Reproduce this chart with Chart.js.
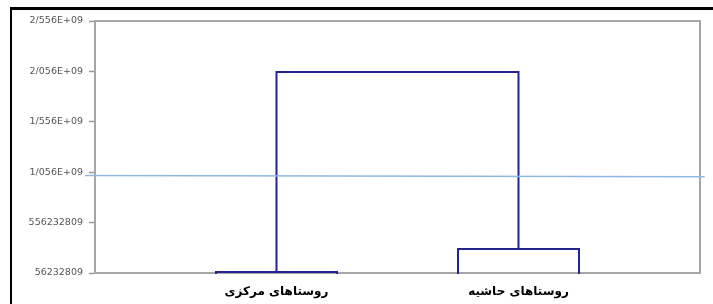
<!DOCTYPE html>
<html>
<head>
<meta charset="utf-8">
<script src="https://cdn.jsdelivr.net/npm/chart.js@4"></script>
<style>
  body { margin: 0; background: #fff; }
  #wrap { position: relative; width: 713px; height: 304px; overflow: hidden; }
  #frame {
    position: absolute; left: 10px; top: 7px; width: 720px; height: 320px;
    border-top: 3px solid #000; border-left: 2px solid #000;
  }
  canvas { position: absolute; left: 0; top: 0; }
</style>
</head>
<body>
<div id="wrap">
  <div id="frame"></div>
  <canvas id="dendro" width="713" height="304"></canvas>
</div>
<script>
// داده ها
const categories = ['روستاهای مرکزی', 'روستاهای حاشیه'];
const categoryX = [30, 70];
const leafX = [20, 40, 60, 80];
const clusterHeights = [66000000, 294000000];
const rootHeight = 2050000000;
const cutLineX = [-1.65, 100.8];
const cutLineY = [1023000000, 1010000000];
const yTicks = [56232809, 556232809, 1056232809, 1556232809, 2056232809, 2556232809];
const yTickLabels = ['56232809', '556232809', '1/056E+09', '1/556E+09', '2/056E+09', '2/556E+09'];

const base = yTicks[0];
const navy = '#24248f';

function link(x1, x2, h, y1, y2) {
  return [{x: x1, y: y1}, {x: x1, y: h}, {x: x2, y: h}, {x: x2, y: y2}];
}

const linkData = [
  link(leafX[0], leafX[1], clusterHeights[0], base, base),
  link(leafX[2], leafX[3], clusterHeights[1], base, base),
  link(categoryX[0], categoryX[1], rootHeight, clusterHeights[0], clusterHeights[1])
];

const datasets = linkData.map(d => ({
  data: d,
  borderColor: navy,
  borderWidth: 2,
  pointRadius: 0,
  tension: 0,
  borderCapStyle: 'square',
  clip: 2
}));

datasets.unshift({
  data: cutLineX.map((x, i) => ({x: x, y: cutLineY[i]})),
  borderColor: '#8fb7e0',
  borderWidth: 1.5,
  pointRadius: 0,
  clip: false
});

// کادر خاکستری دور ناحیه نمودار
const boxPlugin = {
  id: 'box',
  beforeDatasetsDraw(chart) {
    const a = chart.chartArea;
    const c = chart.ctx;
    c.save();
    c.strokeStyle = '#a6a6a6';
    c.lineWidth = 2;
    c.strokeRect(a.left, a.top, a.right - a.left, a.bottom - a.top);
    c.restore();
  }
};

const ctx = document.getElementById('dendro').getContext('2d');
new Chart(ctx, {
  type: 'line',
  data: { datasets: datasets },
  plugins: [boxPlugin],
  options: {
    responsive: false,
    animation: false,
    layout: { padding: { top: 21, right: 13, left: 0, bottom: 0 } },
    plugins: { legend: { display: false }, tooltip: { enabled: false } },
    scales: {
      x: {
        type: 'linear',
        min: 0,
        max: 100,
        afterBuildTicks: s => { s.ticks = categoryX.map(v => ({ value: v })); },
        afterFit: s => { s.height = 31; },
        grid: { display: false, drawTicks: false },
        border: { display: false },
        ticks: {
          padding: 12,
          color: '#000',
          font: { family: 'DejaVu Sans', size: 12, weight: 'bold' },
          callback: (v, i) => categories[i]
        }
      },
      y: {
        type: 'linear',
        min: yTicks[0],
        max: yTicks[yTicks.length - 1],
        afterBuildTicks: s => { s.ticks = yTicks.map(v => ({ value: v })); },
        afterFit: s => { s.width = 95; },
        grid: { drawOnChartArea: false, drawTicks: true, tickLength: 6, tickColor: '#999', tickWidth: 1.5 },
        border: { color: '#a6a6a6', width: 2 },
        ticks: {
          padding: 6,
          color: '#555',
          font: { family: 'DejaVu Sans', size: 9.5 },
          callback: (v, i) => yTickLabels[i]
        }
      }
    }
  }
});
</script>
</body>
</html>
